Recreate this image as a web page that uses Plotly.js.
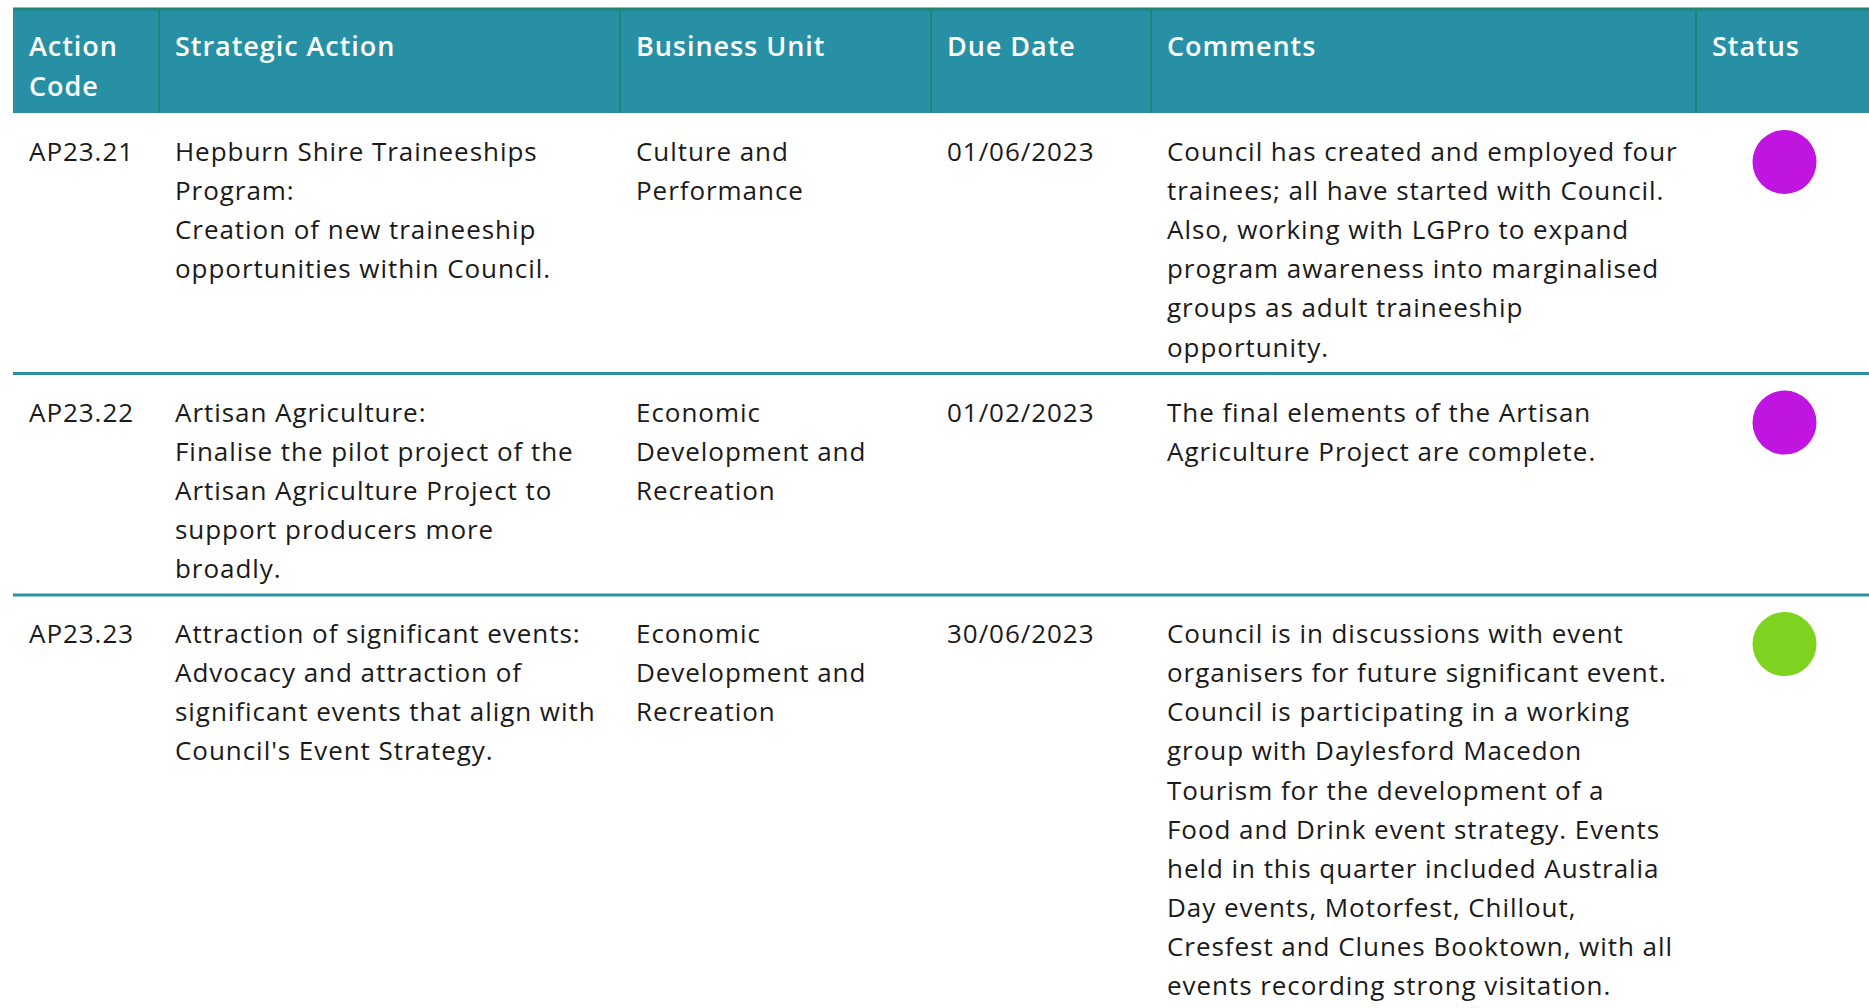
<!DOCTYPE html>
<html>
<head>
<meta charset="utf-8">
<script src="https://cdn.plot.ly/plotly-3.0.1.min.js"></script>
<style>html,body{margin:0;padding:0;background:#fff;}#chart{width:1869px;height:1008px;}
.annotation-text{letter-spacing:0.95px;}</style>
</head>
<body>
<div id="chart"></div>
<script>
// ---- data ----
var headers = ["Action\nCode", "Strategic Action", "Business Unit", "Due Date", "Comments", "Status"];
var actionCodes = ["AP23.21", "AP23.22", "AP23.23"];
var strategicActions = [
  "Hepburn Shire Traineeships\nProgram:\nCreation of new traineeship\nopportunities within Council.",
  "Artisan Agriculture:\nFinalise the pilot project of the\nArtisan Agriculture Project to\nsupport producers more\nbroadly.",
  "Attraction of significant events:\nAdvocacy and attraction of\nsignificant events that align with\nCouncil's Event Strategy."
];
var businessUnits = [
  "Culture and\nPerformance",
  "Economic\nDevelopment and\nRecreation",
  "Economic\nDevelopment and\nRecreation"
];
var dueDates = ["01/06/2023", "01/02/2023", "30/06/2023"];
var comments = [
  "Council has created and employed four\ntrainees; all have started with Council.\nAlso, working with LGPro to expand\nprogram awareness into marginalised\ngroups as adult traineeship\nopportunity.",
  "The final elements of the Artisan\nAgriculture Project are complete.",
  "Council is in discussions with event\norganisers for future significant event.\nCouncil is participating in a working\ngroup with Daylesford Macedon\nTourism for the development of a\nFood and Drink event strategy. Events\nheld in this quarter included Australia\nDay events, Motorfest, Chillout,\nCresfest and Clunes Booktown, with all\nevents recording strong visitation."
];
var statusColors = ["#C014E0", "#C014E0", "#7ED321"];

// ---- layout constants ----
var W = 1869, H = 1008;
var tableLeft = 13, tableRight = 1869;
var headTop = 9, headBottom = 113;
var colEdges = [13, 159, 620, 931, 1151, 1696, 1869];
var textPad = 14;
var lineH = 39.1;
var firstLineOffset = 38;
var rowExtra = 26;
var fontFamily = "'Open Sans', Lato, sans-serif";
var fontSize = 26;
var headerColor = "#2790A5";
var headerLine = "#1E8677";
var sepColor = "#2A90A6";
var textColor = "#1a1a1a";

var columns = [actionCodes, strategicActions, businessUnits, dueDates, comments];

var annotations = [];
var shapes = [];

// header background
shapes.push({type: "rect", xref: "x", yref: "y", x0: tableLeft, x1: tableRight, y0: headTop, y1: headBottom,
  fillcolor: headerColor, line: {width: 0}, layer: "below"});
shapes.push({type: "line", xref: "x", yref: "y", x0: tableLeft, x1: tableRight, y0: headTop, y1: headTop,
  line: {color: headerLine, width: 3}});
for (var c = 1; c < colEdges.length - 1; c++) {
  shapes.push({type: "line", xref: "x", yref: "y", x0: colEdges[c], x1: colEdges[c], y0: headTop, y1: headBottom,
    line: {color: headerLine, width: 2}});
}
headers.forEach(function (h, ci) {
  h.split("\n").forEach(function (ln, li) {
    annotations.push({xref: "x", yref: "y", x: colEdges[ci] + textPad, y: headTop + 36 + li * 40,
      text: ln, showarrow: false, xanchor: "left", yanchor: "middle",
      font: {family: fontFamily, size: 27, color: "#ffffff", weight: 600}});
  });
});

// rows
var rowTop = headBottom;
var markerX = [], markerY = [];
for (var r = 0; r < actionCodes.length; r++) {
  var nLines = 1;
  columns.forEach(function (col) { nLines = Math.max(nLines, col[r].split("\n").length); });
  columns.forEach(function (col, ci) {
    col[r].split("\n").forEach(function (ln, li) {
      annotations.push({xref: "x", yref: "y", x: colEdges[ci] + textPad, y: rowTop + firstLineOffset + li * lineH,
        text: ln, showarrow: false, xanchor: "left", yanchor: "middle",
        font: {family: fontFamily, size: fontSize, color: textColor}});
    });
  });
  markerX.push((colEdges[5] + colEdges[6]) / 2 + 2);
  markerY.push(rowTop + 49);
  var rowBottom = rowTop + nLines * lineH + rowExtra;
  if (r < actionCodes.length - 1) {
    shapes.push({type: "line", xref: "x", yref: "y", x0: tableLeft, x1: tableRight, y0: rowBottom, y1: rowBottom,
      line: {color: sepColor, width: 3}});
  }
  rowTop = rowBottom;
}

var trace = {
  type: "scatter", mode: "markers", x: markerX, y: markerY,
  marker: {size: 64, color: statusColors, line: {width: 0}},
  hoverinfo: "skip", showlegend: false, cliponaxis: false
};

var layout = {
  width: W, height: H,
  margin: {l: 0, r: 0, t: 0, b: 0},
  paper_bgcolor: "#ffffff", plot_bgcolor: "#ffffff",
  xaxis: {range: [0, W], visible: false, fixedrange: true},
  yaxis: {range: [H, 0], visible: false, fixedrange: true},
  shapes: shapes,
  annotations: annotations,
  showlegend: false
};

Plotly.newPlot("chart", [trace], layout, {displayModeBar: false, staticPlot: true});
</script>
</body>
</html>
